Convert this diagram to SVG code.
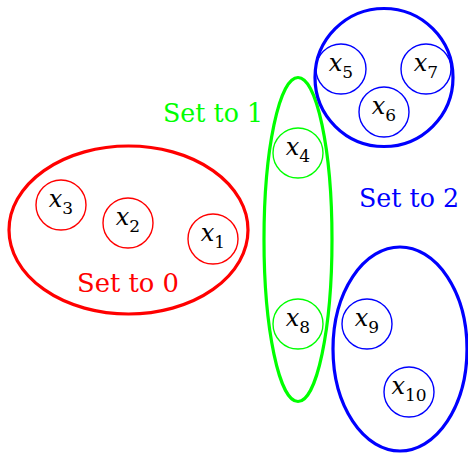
<svg xmlns="http://www.w3.org/2000/svg" width="468" height="453" viewBox="0 0 468 453">
<style>
.big{fill:none;stroke-width:3.2}
.sm{fill:none;stroke-width:1.4}
.r{stroke:#ff0000}.g{stroke:#00ff00}.b{stroke:#0000ff}
text{font-family:'DejaVu Serif','Liberation Serif',serif}
.lbl{font-size:26px;text-anchor:middle}
.m{font-size:24px;text-anchor:middle;fill:#000}
.v{font-style:italic}
.s{font-size:17px}
</style>
<rect width="468" height="453" fill="#fff"/>
<g id="connectors"></g>
<g id="set0">
<ellipse class="big r" cx="128.5" cy="230" rx="119.5" ry="84"/>
<text class="lbl" x="128" y="292" fill="#ff0000" textLength="102" lengthAdjust="spacingAndGlyphs">Set to 0</text>
</g>
<g id="set1">
<ellipse class="big g" cx="298" cy="239.5" rx="34" ry="162"/>
<text class="lbl" x="213" y="122" fill="#00ff00" textLength="100" lengthAdjust="spacingAndGlyphs">Set to 1</text>
</g>
<g id="set2a">
<circle class="big b" cx="384" cy="77.5" r="69"/>
</g>
<g id="set2b">
<ellipse class="big b" cx="400" cy="349" rx="67" ry="102"/>
</g>
<text class="lbl" x="409" y="207" fill="#0000ff" textLength="100" lengthAdjust="spacingAndGlyphs">Set to 2</text>
<g id="x1"><circle class="sm r" cx="213" cy="239" r="25"/><text class="m" x="213" y="241"><tspan class="v">x</tspan><tspan class="s" dy="7">1</tspan></text></g>
<g id="x2"><circle class="sm r" cx="128" cy="223" r="25"/><text class="m" x="128" y="225"><tspan class="v">x</tspan><tspan class="s" dy="7">2</tspan></text></g>
<g id="x3"><circle class="sm r" cx="61" cy="205" r="25"/><text class="m" x="61" y="207"><tspan class="v">x</tspan><tspan class="s" dy="7">3</tspan></text></g>
<g id="x4"><circle class="sm g" cx="298" cy="153" r="25"/><text class="m" x="298" y="155"><tspan class="v">x</tspan><tspan class="s" dy="7">4</tspan></text></g>
<g id="x5"><circle class="sm b" cx="341" cy="69" r="25"/><text class="m" x="341" y="71"><tspan class="v">x</tspan><tspan class="s" dy="7">5</tspan></text></g>
<g id="x6"><circle class="sm b" cx="384" cy="112" r="25"/><text class="m" x="384" y="114"><tspan class="v">x</tspan><tspan class="s" dy="7">6</tspan></text></g>
<g id="x7"><circle class="sm b" cx="426" cy="69" r="25"/><text class="m" x="426" y="71"><tspan class="v">x</tspan><tspan class="s" dy="7">7</tspan></text></g>
<g id="x8"><circle class="sm g" cx="298" cy="324" r="25"/><text class="m" x="298" y="326"><tspan class="v">x</tspan><tspan class="s" dy="7">8</tspan></text></g>
<g id="x9"><circle class="sm b" cx="367" cy="324" r="25"/><text class="m" x="367" y="326"><tspan class="v">x</tspan><tspan class="s" dy="7">9</tspan></text></g>
<g id="x10"><circle class="sm b" cx="409" cy="392" r="25"/><text class="m" x="409" y="394"><tspan class="v">x</tspan><tspan class="s" dy="7">10</tspan></text></g>
</svg>
